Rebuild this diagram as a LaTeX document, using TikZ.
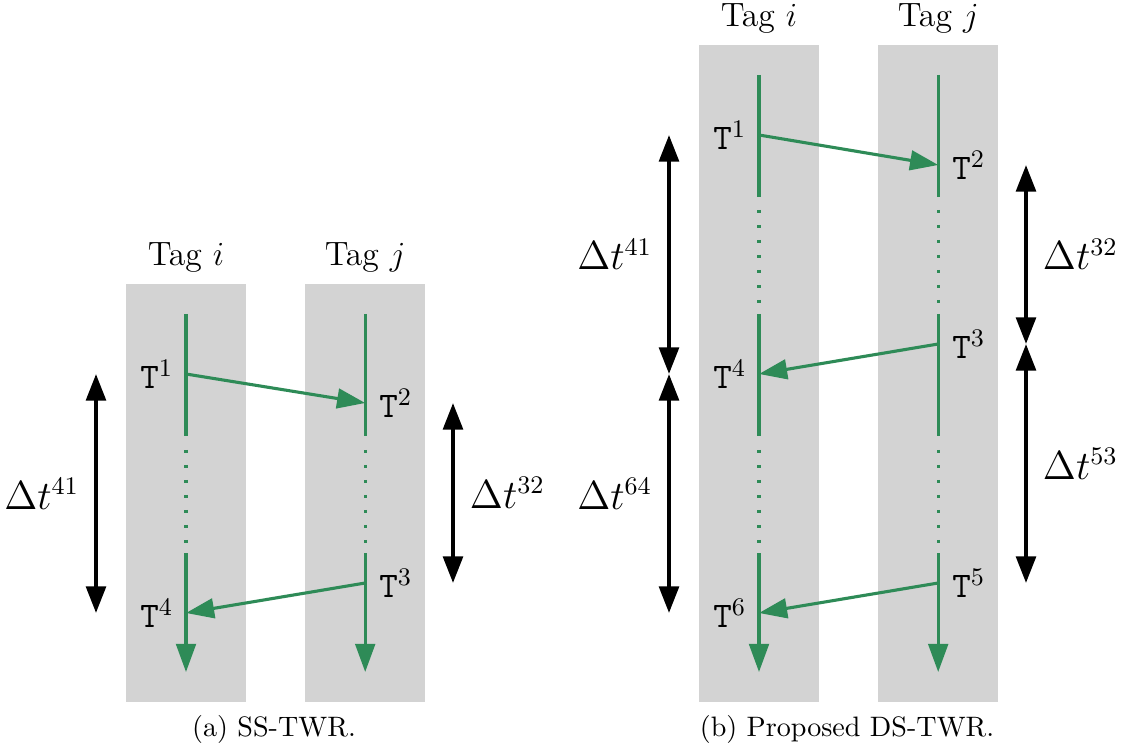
\documentclass[tikz,border=0pt]{standalone}
\usepackage{amsmath}
\usepackage{tikz}
\usetikzlibrary{arrows.meta, positioning}
\definecolor{lanegray}{RGB}{211,211,211}
\definecolor{msggreen}{RGB}{46,139,87}
\tikzset{
  lane/.style = {fill=lanegray, inner sep=0pt, minimum width=1.5cm},
  tagname/.style = {font=\large, inner sep=3pt},
  life/.style = {msggreen, line width=1.1pt},
  idle/.style = {life, dash pattern=on 1pt off 4.33pt},
  msg/.style = {life, -{Triangle[length=10pt, width=7pt]}},
  interval/.style = {black, line width=1.4pt,
    {Triangle[length=9.5pt, width=7pt]}-{Triangle[length=9.5pt, width=7pt]}},
  stamp/.style = {font=\fontsize{12.8}{15}\selectfont},
  dlabel/.style = {font=\fontsize{13.4}{16}\selectfont}
}

\begin{document}
\begin{tikzpicture}
\useasboundingbox (0,0) rectangle (14.025,-9.3875);

% (a) single-sided
\begin{scope}[xshift=2.325cm]
\node [lane, minimum height=5.22cm] (ai) at (0,-6.16) {};
\node [lane, minimum height=5.22cm] (aj) at (2.24,-6.16) {};
\node [tagname, above=0.6pt of ai] (tai) {Tag $i$};
\node [tagname, above=0.6pt of aj] (taj) {Tag $j$};
\foreach \x in {0,2.24} {
  \draw [life] (\x,-3.925) -- (\x,-5.45);
  \draw [idle] (\x,-5.625) -- (\x,-6.79);
  \draw [msg] (\x,-6.9125) -- (\x,-8.4);
}
\coordinate (a1) at (0,-4.675);
\coordinate (a2) at (2.24,-5.0375);
\coordinate (a3) at (2.24,-7.2875);
\coordinate (a4) at (0,-7.6625);
\draw [msg] (a1) -- (a2);
\draw [msg] (a3) -- (a4);
\node [stamp, left=1pt of a1] (sa1) {\texttt{T}$^1$};
\node [stamp, right=1.5pt of a2] (sa2) {\texttt{T}$^2$};
\node [stamp, right=1.5pt of a3] (sa3) {\texttt{T}$^3$};
\node [stamp, left=1pt of a4] (sa4) {\texttt{T}$^4$};
\coordinate (la1) at (-1.125,-4.675);
\coordinate (la4) at (-1.125,-7.6625);
\coordinate (ra2) at (3.3375,-5.0375);
\coordinate (ra3) at (3.3375,-7.2875);
\draw [interval] (la1) -- node [dlabel, left=2pt] (da41) {$\Delta t^{41}$} (la4);
\draw [interval] (ra2) -- node [dlabel, right=2pt] (da32) {$\Delta t^{32}$} (ra3);
\node (capa) at (1.1,-9.1125) {(a) SS-TWR.};
\end{scope}

% (b) double-sided
\begin{scope}[xshift=9.4875cm]
\node [lane, minimum height=8.21cm] (bi) at (0,-4.666) {};
\node [lane, minimum height=8.21cm] (bj) at (2.24,-4.666) {};
\node [tagname, above=0.6pt of bi] (tbi) {Tag $i$};
\node [tagname, above=0.6pt of bj] (tbj) {Tag $j$};
\foreach \x in {0,2.24} {
  \draw [life] (\x,-0.9375) -- (\x,-2.4625);
  \draw [idle] (\x,-2.625) -- (\x,-3.79);
  \draw [life] (\x,-3.925) -- (\x,-5.45);
  \draw [idle] (\x,-5.625) -- (\x,-6.79);
  \draw [msg] (\x,-6.9125) -- (\x,-8.4);
}
\coordinate (b1) at (0,-1.6875);
\coordinate (b2) at (2.24,-2.0625);
\coordinate (b3) at (2.24,-4.3);
\coordinate (b4) at (0,-4.675);
\coordinate (b5) at (2.24,-7.2875);
\coordinate (b6) at (0,-7.6625);
\draw [msg] (b1) -- (b2);
\draw [msg] (b3) -- (b4);
\draw [msg] (b5) -- (b6);
\node [stamp, left=1pt of b1] (sb1) {\texttt{T}$^1$};
\node [stamp, right=1.5pt of b2] (sb2) {\texttt{T}$^2$};
\node [stamp, right=1.5pt of b3] (sb3) {\texttt{T}$^3$};
\node [stamp, left=1pt of b4] (sb4) {\texttt{T}$^4$};
\node [stamp, right=1.5pt of b5] (sb5) {\texttt{T}$^5$};
\node [stamp, left=1pt of b6] (sb6) {\texttt{T}$^6$};
\coordinate (lb1) at (-1.125,-1.6875);
\coordinate (lb4) at (-1.125,-4.675);
\coordinate (lb6) at (-1.125,-7.6625);
\coordinate (rb2) at (3.3375,-2.0625);
\coordinate (rb3) at (3.3375,-4.3);
\coordinate (rb5) at (3.3375,-7.2875);
\draw [interval] (lb1) -- node [dlabel, left=2pt] (db41) {$\Delta t^{41}$} (lb4);
\draw [interval] (lb4) -- node [dlabel, left=2pt] (db64) {$\Delta t^{64}$} (lb6);
\draw [interval] (rb2) -- node [dlabel, right=2pt] (db32) {$\Delta t^{32}$} (rb3);
\draw [interval] (rb3) -- node [dlabel, right=2pt] (db53) {$\Delta t^{53}$} (rb5);
\node (capb) at (1.1,-9.1125) {(b) Proposed DS-TWR.};
\end{scope}
\end{tikzpicture}
\end{document}
